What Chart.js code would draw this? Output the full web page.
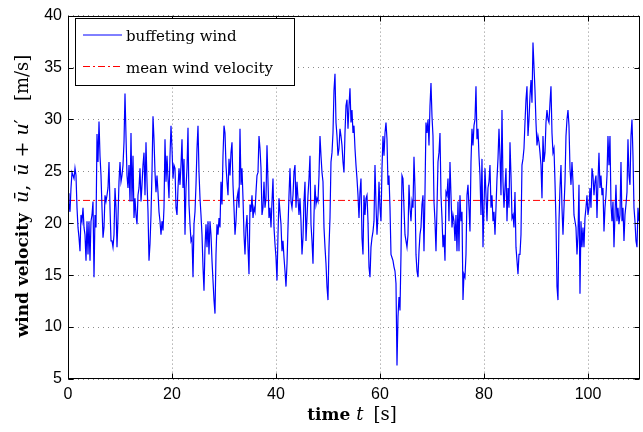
<!DOCTYPE html>
<html>
<head>
<meta charset="utf-8">
<script src="https://cdn.jsdelivr.net/npm/chart.js@4.4.0/dist/chart.umd.min.js"></script>
<style>
  html, body { margin: 0; padding: 0; background: #fff; }
</style>
</head>
<body>
<canvas id="windChart" width="643" height="432"></canvas>
<script>
// sampling interval of the wind record [s]
const sampleStep = 0.1923;

// buffeting wind u_bar + u' [m/s]
const windSeg1 = [22.9,21.9,21.1,23.4,24.9,24.6,24.3,25.3,24.6,21.5,19.6,18.6,17.3,20.8,20.2,21.5,19.6,18.9,16.4,20.2,17.0,20.2,16.4,20.2,20.8,22.1,14.8,20.8,19.6,28.6,25.9,29.8,26.5,24.6,21.5,18.6,19.6,22.7,22.1,22.7,23.4,25.9,21.5,18.3,18.3,17.7,18.9,23.4,21.5,17.7,20.5,24.0,25.9];
const windSeg2 = [24.0,24.6,25.6,27.8,32.5,28.4,24.6,23.4,25.6,22.1,28.7,22.1,26.5,20.5,22.4,20.8,19.9,22.7,23.4,25.3,22.1,23.7,25.6,26.8,22.7,27.8,24.0,21.1,16.4,18.0,20.8,24.9,30.3,28.1,24.9,23.0,24.6,23.0,21.1,20.2,18.9,20.2,19.3,21.5,28.1,24.0,26.5,24.3,22.4,26.5,29.4,27.2,24.3,25.6,25.3,21.5,20.8];
const windSeg3 = [23.4,25.3,23.7,25.6,28.1,23.4,26.2,18.9,23.4,25.3,29.2,21.8,19.9,18.3,18.6,14.8,19.9,21.1,23.7,27.2,29.4,24.9,22.4,20.8,18.9,15.8,13.5,17.7,19.9,17.7,20.2,17.0,20.2,18.9,16.4,14.5,12.6,11.3,17.0,19.9,18.9,20.5,19.6,24.0,21.8,26.5,29.4,28.7,25.6,24.0,22.7,26.2,24.6,26.8,27.8,23.7,21.5];
const windSeg4 = [18.9,20.2,22.4,23.0,21.5,29.1,23.7,25.3,22.4,18.9,17.0,19.6,20.8,17.7,15.1,21.8,21.1,22.7,20.5,21.5,21.1,23.0,24.6,24.9,28.4,27.2,25.3,20.8,21.5,24.0,21.5,22.4,27.5,24.0,20.5,21.5,19.6,22.1,24.3,19.6,18.0,16.7,14.5,18.9,22.4,21.1,19.9,17.3,18.3,16.7,15.4,13.9,16.1,19.6,22.7,25.3,22.1];
const windSeg5 = [21.5,22.7,24.9,25.6,21.5,24.0,22.4,20.8,22.4,20.2,17.0,18.6,22.1,24.0,18.3,20.5,22.7,24.3,26.5,19.9,18.3,16.1,20.8,23.7,21.8,22.4,22.1,24.6,28.4,26.5,24.9,24.0,19.6,17.7,16.1,13.9,12.6,17.7,20.5,25.9,26.8,28.7,32.8,34.4,29.7,28.4,26.5,27.2,29.1,28.4,27.5,25.9,24.9,28.7,31.3,31.9,29.1];
const windSeg6 = [31.3,33.0,29.7,30.9,28.7,29.4,27.2,25.6,24.3,22.7,20.5,23.0,24.3,18.6,17.0,22.7,20.8,22.4,22.7,20.2,15.8,14.8,17.7,18.6,19.2,20.2,25.6,21.8,18.9,20.8,24.0,21.5,20.2,25.3,28.4,26.5,28.7,29.7,28.1,23.7,24.6,21.5,17.0,16.7,16.4,15.8,15.4,14.2,6.3,11.0,12.9,11.6,17.0,24.6,24.3,21.5,18.9];
const windSeg7 = [18.3,17.7,18.9,23.7,21.5,20.2,22.1,21.5,26.4,23.4,17.0,15.4,14.8,17.3,18.9,19.6,21.8,22.7,17.3,23.0,29.7,28.7,30.0,27.5,31.3,33.5,30.3,28.4,22.1,20.2,17.3,21.5,25.9,26.8,28.7,22.7,20.5,17.7,18.9,16.4,23.0,22.7,24.3,20.2,25.9,22.7,19.6,20.8,20.2,18.3,20.8,17.3,22.1,17.3,22.7,20.2,21.1];
const windSeg8 = [12.6,15.1,14.8,17.0,22.7,23.7,21.5,19.2,25.9,29.1,27.5,29.4,30.0,33.2,28.1,29.1,26.5,24.6,20.8,26.2,17.7,21.5,25.3,22.7,20.2,23.4,24.0,25.6,21.5,22.7,20.2,21.1,18.9,21.5,24.3,26.2,29.1,26.5,22.7,30.9,24.0,21.5,23.4,25.3,20.2,23.4,21.5,27.8,24.6,20.5,20.8,19.6,23.0,17.7,16.4,15.1,17.0];
const windSeg9 = [17.0,18.9,25.6,26.2,27.2,29.7,31.9,33.2,28.4,30.0,32.2,33.8,31.6,37.4,35.1,32.8,29.7,27.5,28.4,27.8,26.8,25.6,22.4,28.4,25.9,26.8,29.7,30.9,30.0,29.7,31.6,33.2,28.7,26.8,27.2,24.0,20.2,13.9,12.6,20.2,23.4,25.6,21.5,18.9,21.5,24.0,28.4,30.0,30.9,29.4,25.3,23.7,25.9,24.0,20.8,20.2,19.6];
const windSeg10 = [17.0,18.9,23.7,13.2,20.2,17.7,19.6,17.7,20.5,21.5,22.7,20.8,21.5,23.4,21.5,25.3,24.6,22.7,24.0,24.6,20.5,24.0,26.8,23.4,24.6,22.7,23.4,19.2,21.5,22.7,24.6,28.4,25.6,28.4,21.8,20.2,22.1,17.7,20.8,23.7,20.2,21.5,19.9,20.8,25.9,20.2,21.5,18.3,20.8,21.8,23.0,28.1,24.6,23.7,28.4,30.0,26.5,21.5,20.2,18.3,17.7,21.5,20.2];

// mean wind velocity u_bar [m/s]
const meanVelocity = 22.2;
const timeRange = [0, 110];

const xTicks = [0, 20, 40, 60, 80, 100];
const yTicks = [5, 10, 15, 20, 25, 30, 35, 40];

const buffetingWind = [].concat(windSeg1, windSeg2, windSeg3, windSeg4, windSeg5,
  windSeg6, windSeg7, windSeg8, windSeg9, windSeg10);
const windPoints = buffetingWind.map((v, i) => ({ x: i * sampleStep, y: v }));

const SERIF = '"DejaVu Serif", serif';

// draws a run of text pieces with different fonts, centred on cx
function drawRich(ctx, parts, cx, baseline) {
  let total = 0;
  parts.forEach(p => { ctx.font = p.font; total += ctx.measureText(p.text).width + (p.gap || 0); });
  let x = cx - total / 2;
  ctx.textAlign = 'left';
  ctx.textBaseline = 'alphabetic';
  parts.forEach(p => {
    ctx.font = p.font;
    ctx.fillText(p.text, x, baseline);
    x += ctx.measureText(p.text).width + (p.gap || 0);
  });
}

const matlabFrame = {
  id: 'matlabFrame',
  afterDraw(chart) {
    const { ctx, chartArea: a, scales } = chart;
    const L = Math.round(a.left) + 0.5, R = Math.round(a.right) - 0.5;
    const T = Math.round(a.top) + 0.5, B = Math.round(a.bottom) - 0.5;
    ctx.save();
    ctx.strokeStyle = '#000';
    ctx.lineWidth = 1;
    ctx.setLineDash([]);
    ctx.strokeRect(L, T, R - L, B - T);

    // inward ticks on all four sides
    ctx.beginPath();
    xTicks.forEach(v => {
      const px = Math.round(scales.x.getPixelForValue(v)) + 0.5;
      ctx.moveTo(px, B); ctx.lineTo(px, B - 5);
      ctx.moveTo(px, T); ctx.lineTo(px, T + 5);
    });
    yTicks.forEach(v => {
      const py = Math.round(scales.y.getPixelForValue(v)) + 0.5;
      ctx.moveTo(L, py); ctx.lineTo(L + 5, py);
      ctx.moveTo(R, py); ctx.lineTo(R - 5, py);
    });
    ctx.stroke();

    // legend box
    const ds = chart.data.datasets;
    ctx.fillStyle = '#fff';
    ctx.fillRect(75.5, 18.5, 219, 67);
    ctx.strokeRect(75.5, 18.5, 219, 67);
    const rows = [35, 66.5];
    ds.forEach((d, i) => {
      ctx.beginPath();
      ctx.strokeStyle = d.borderColor;
      ctx.setLineDash(d.borderDash || []);
      ctx.moveTo(83, rows[i]); ctx.lineTo(122, rows[i]);
      ctx.stroke();
      ctx.setLineDash([]);
      ctx.fillStyle = '#000';
      ctx.font = '15px ' + SERIF;
      ctx.textAlign = 'left';
      ctx.textBaseline = 'alphabetic';
      ctx.fillText(d.label, 126, rows[i] + 6);
    });

    // axis titles
    ctx.fillStyle = '#000';
    drawRich(ctx, [
      { text: 'time', font: 'bold 17px ' + SERIF, gap: 6 },
      { text: 't', font: 'italic 18px ' + SERIF, gap: 10 },
      { text: '[s]', font: '18px ' + SERIF }
    ], 352, 420);

    ctx.translate(28, 196);
    ctx.rotate(-Math.PI / 2);
    drawRich(ctx, [
      { text: 'wind velocity', font: 'bold 17px ' + SERIF, gap: 10 },
      { text: 'ū', font: 'italic 19px ' + SERIF },
      { text: ',', font: '19px ' + SERIF, gap: 9 },
      { text: 'ū', font: 'italic 19px ' + SERIF, gap: 6 },
      { text: '+', font: '19px ' + SERIF, gap: 6 },
      { text: 'u', font: 'italic 19px ' + SERIF },
      { text: '′', font: '19px ' + SERIF, gap: 18 },
      { text: '[m/s]', font: '18px ' + SERIF }
    ], 0, 0);
    ctx.restore();
  }
};

const gridStyle = { color: '#8c8c8c', lineWidth: 1, drawTicks: false };
const tickFont = { family: '"Liberation Sans", Arial, sans-serif', size: 16 };

new Chart(document.getElementById('windChart'), {
  type: 'line',
  data: {
    datasets: [
      {
        label: 'buffeting wind',
        data: windPoints,
        borderColor: '#0000ff',
        borderWidth: 1.2,
        pointRadius: 0,
        tension: 0
      },
      {
        label: 'mean wind velocity',
        data: timeRange.map(t => ({ x: t, y: meanVelocity })),
        borderColor: '#ff0000',
        borderWidth: 1,
        borderDash: [7, 3, 2, 3],
        pointRadius: 0
      }
    ]
  },
  options: {
    responsive: false,
    animation: false,
    events: [],
    layout: { padding: { top: 11, right: 3, left: 0, bottom: 0 } },
    plugins: { legend: { display: false }, tooltip: { enabled: false } },
    scales: {
      x: {
        type: 'linear',
        min: timeRange[0],
        max: timeRange[1],
        afterBuildTicks: s => { s.ticks = xTicks.map(v => ({ value: v })); },
        afterFit: s => { s.height = 53; },
        grid: gridStyle,
        border: { display: false, dash: [1, 3] },
        ticks: { color: '#000', font: tickFont, padding: 6, maxRotation: 0 }
      },
      y: {
        min: 5,
        max: 40,
        afterBuildTicks: s => { s.ticks = yTicks.map(v => ({ value: v })); },
        afterFit: s => { s.width = 68; },
        grid: gridStyle,
        border: { display: false, dash: [1, 4] },
        ticks: { color: '#000', font: tickFont, padding: 6 }
      }
    }
  },
  plugins: [matlabFrame]
});
</script>
</body>
</html>
